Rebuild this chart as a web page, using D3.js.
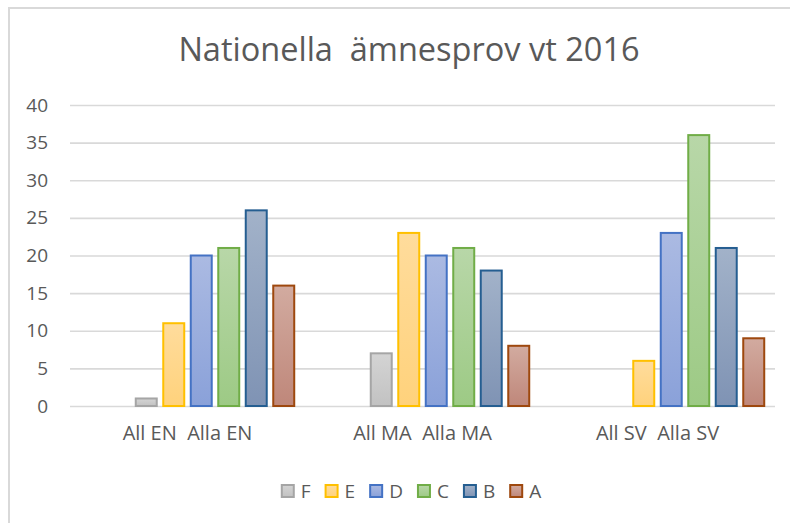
<!DOCTYPE html>
<html>
<head>
<meta charset="utf-8">
<script src="https://cdn.jsdelivr.net/npm/d3@7"></script>
<style>
  body { margin: 0; background: #fff; }
  text { font-family: "Open Sans", sans-serif; fill: #595959; white-space: pre; }
</style>
</head>
<body>
<svg id="chart" width="790" height="523"></svg>
<script>
// data
var categories = ["All EN  Alla EN", "All MA  Alla MA", "All SV  Alla SV"];
var series = ["F", "E", "D", "C", "B", "A"];
var valuesF = [1, 7, null];
var valuesE = [11, 23, 6];
var valuesD = [20, 20, 23];
var valuesC = [21, 21, 36];
var valuesB = [26, 18, 21];
var valuesA = [16, 8, 9];
var yTicks = [0, 5, 10, 15, 20, 25, 30, 35, 40];

var seriesValues = [valuesF, valuesE, valuesD, valuesC, valuesB, valuesA];

// colours per series: [top of gradient, bottom of gradient, outline]
var colors = {
    F: ["#d4d4d4", "#c2c2c2", "#a5a5a5"],
    E: ["#ffdc9c", "#ffd27c", "#ffc000"],
    D: ["#abbae2", "#8aa1d9", "#4472c4"],
    C: ["#b8d7a8", "#9dca85", "#70ad47"],
    B: ["#a2b2c9", "#7f93b4", "#255e91"],
    A: ["#d2aba0", "#bf877a", "#9e480e"]
};

var width = 790;
var height = 523;
var padding = { t: 105, r: 15, b: 117, l: 70 };

var svg = d3.select("#chart");

// outer chart border (only top and left are inside the picture)
svg.append("path")
    .attr("d", "M9," + height + "V8H" + width)
    .attr("fill", "none")
    .attr("stroke", "#d9d9d9")
    .attr("stroke-width", 2);

var x0 = d3.scaleBand()
    .domain(categories)
    .range([padding.l, width - padding.r]);

// two empty slots sit in front of F in every group
var slots = ["_a", "_b"].concat(series);
var x1 = d3.scaleBand()
    .domain(slots)
    .range([0, x0.bandwidth()])
    .paddingInner(0.164)
    .paddingOuter(0.355);

var y = d3.scaleLinear()
    .domain([0, 40])
    .range([height - padding.b, padding.t]);

var defs = svg.append("defs");
series.forEach(function (s) {
    var g = defs.append("linearGradient")
        .attr("id", "grad" + s)
        .attr("x1", 0).attr("y1", 0).attr("x2", 0).attr("y2", 1);
    g.append("stop").attr("offset", "0%").attr("stop-color", colors[s][0]);
    g.append("stop").attr("offset", "100%").attr("stop-color", colors[s][1]);
});

// gridlines
var yAxis = d3.axisLeft(y)
    .tickValues(yTicks)
    .tickSize(-(width - padding.l - padding.r))
    .tickPadding(22);

var yG = svg.append("g")
    .attr("transform", "translate(" + padding.l + ",0)")
    .call(yAxis);
yG.select(".domain").remove();
yG.selectAll(".tick line")
    .attr("stroke", "#d9d9d9")
    .attr("stroke-width", 1.6);
yG.selectAll(".tick text")
    .style("font-family", "'Open Sans', sans-serif")
    .style("font-size", "19px")
    .attr("fill", "#595959");

// bars
var rows = [];
series.forEach(function (s, si) {
    categories.forEach(function (c, ci) {
        var v = seriesValues[si][ci];
        if (v !== null) rows.push({ series: s, cat: c, value: v });
    });
});

svg.append("g")
    .selectAll("rect")
    .data(rows)
    .enter()
    .append("rect")
    .attr("x", d => x0(d.cat) + x1(d.series) + 1)
    .attr("y", d => y(d.value))
    .attr("width", x1.bandwidth() - 2)
    .attr("height", d => y(0) - y(d.value))
    .attr("fill", d => "url(#grad" + d.series + ")")
    .attr("stroke", d => colors[d.series][2])
    .attr("stroke-width", 2);

// category labels
var xAxis = d3.axisBottom(x0).tickSize(0).tickPadding(20);
var xG = svg.append("g")
    .attr("transform", "translate(0," + y(0) + ")")
    .call(xAxis);
xG.select(".domain").remove();
xG.selectAll(".tick text")
    .style("font-family", "'Open Sans', sans-serif")
    .style("font-size", "20px")
    .style("white-space", "pre")
    .attr("fill", "#595959");

// title
svg.append("text")
    .attr("x", 409)
    .attr("y", 61)
    .attr("text-anchor", "middle")
    .style("font-size", "32.5px")
    .attr("fill", "#737373")
    .text("Nationella  ämnesprov vt 2016");

// legend
var legend = svg.append("g");
var lx = 0;
series.forEach(function (s) {
    var item = legend.append("g").attr("transform", "translate(" + lx + ",0)");
    item.append("rect")
        .attr("x", 1).attr("y", -6)
        .attr("width", 12).attr("height", 12)
        .attr("fill", "url(#grad" + s + ")")
        .attr("stroke", colors[s][2])
        .attr("stroke-width", 2);
    var t = item.append("text")
        .attr("x", 20)
        .attr("dy", "0.35em")
        .style("font-size", "19px")
        .text(s);
    lx += 20 + t.node().getComputedTextLength() + 14;
});
lx -= 14;
legend.attr("transform", "translate(" + (411 - lx / 2) + ",491)");
</script>
</body>
</html>
